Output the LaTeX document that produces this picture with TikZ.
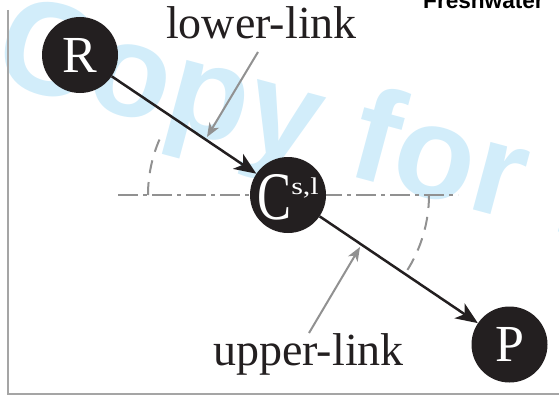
\documentclass[tikz,border=0pt]{standalone}
\usepackage{fontspec}
\setmainfont{Liberation Serif}
\newfontfamily\wmfont{Liberation Sans}
\usetikzlibrary{arrows.meta}
\definecolor{wmblue}{RGB}{210,237,250}
\definecolor{dotfill}{RGB}{35,31,32}
\definecolor{guide}{RGB}{145,145,145}
\definecolor{framegray}{RGB}{165,165,165}
\begin{document}
\begin{tikzpicture}[x=1pt,y=-1pt,
  state/.style={circle, fill=dotfill, text=white, inner sep=0pt, minimum size=76pt,
    font=\fontsize{52}{52}\selectfont},
  mainarrow/.style={line width=2.5pt, draw=dotfill,
    -{Stealth[length=22pt,width=18pt,inset=6pt]}},
  pointer/.style={line width=2pt, draw=guide,
    -{Stealth[length=14pt,width=11pt,inset=4pt]}},
  guidedash/.style={line width=2pt, draw=guide, dash pattern=on 13pt off 9pt},
  guidedashdot/.style={line width=2pt, draw=guide, dash pattern=on 20pt off 5pt on 4pt off 5pt},
  lbl/.style={font=\fontsize{46}{46}\selectfont, text=dotfill, inner sep=0pt, anchor=base},
  wmtext/.style={anchor=base west, inner sep=0pt, text=wmblue, rotate=-15,
    font=\wmfont\bfseries\fontsize{132}{132}\selectfont},
  headtext/.style={anchor=base west, inner sep=0pt, text=black,
    font=\wmfont\bfseries\fontsize{22.6}{22.6}\selectfont}
]
\useasboundingbox (0,0) rectangle (559,396);
\begin{scope}
  \clip (0,0) rectangle (559,396);
  \node[wmtext] (wm) at (-10,80) {Copy for review};
  \node[headtext] (fresh) at (423,9) {Freshwater};
\end{scope}
% frame
\coordinate (ftop) at (7.5,10);
\coordinate (fcorner) at (7.5,393.5);
\coordinate (fright) at (559,393.5);
\draw[framegray, line width=2pt] (ftop) -- (fcorner) -- (fright);
% guide lines
\coordinate (Cc) at (288,195);
\coordinate (hl) at (118,195);
\coordinate (hr) at (458,195);
\draw[guidedashdot] (hl) -- (hr);
\draw[guidedash] (Cc) ++(180:140) arc[start angle=180, end angle=207, radius=140];
\draw[guidedash] (Cc) ++(0:141) arc[start angle=0, end angle=33, radius=141];
% states
\node[state] (R) at (80,55) {R};
\node[state] (C) at (Cc) {};
\node[text=white, inner sep=0pt, yshift=-2.5pt] (Ctext) at (C)
  {\scalebox{0.75}[1]{\fontsize{68}{68}\selectfont C}\raisebox{25pt}{\scalebox{1.25}[1]{\fontsize{24}{24}\selectfont s,l}}};
\node[state] (P) at (509.5,344.5) {P};
% main arrows
\draw[mainarrow] (R) -- (C);
\draw[mainarrow] (C) -- (P);
% labels
\node[lbl] (lower) at (261.5,38) {lower-link};
\node[lbl] (upper) at (308.5,365) {upper-link};
\coordinate (ls) at (258,52);
\coordinate (lt) at (207,137);
\coordinate (us) at (309,333);
\coordinate (ut) at (360,247);
\draw[pointer] (ls) -- (lt);
\draw[pointer] (us) -- (ut);
\end{tikzpicture}
\end{document}
